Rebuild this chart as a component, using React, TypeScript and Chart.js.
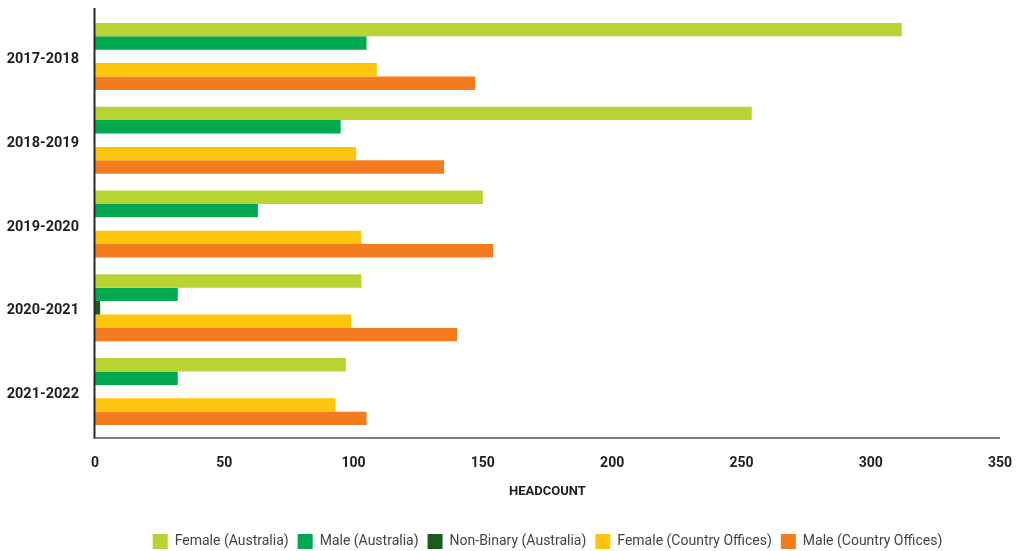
import { useEffect, useRef } from "react";
import { Chart, registerables } from "chart.js";

Chart.register(...registerables);

const categories = ["2017-2018", "2018-2019", "2019-2020", "2020-2021", "2021-2022"];
const femaleAustralia = [312, 254, 150, 103, 97];
const maleAustralia = [105, 95, 63, 32, 32];
const nonBinaryAustralia = [0, 0, 0, 2, 0];
const femaleCountryOffices = [109, 101, 103, 99, 93];
const maleCountryOffices = [147, 135, 154, 140, 105];
const seriesLabels = [
  "Female (Australia)",
  "Male (Australia)",
  "Non-Binary (Australia)",
  "Female (Country Offices)",
  "Male (Country Offices)",
];
const seriesColors = ["#B7D433", "#00A84F", "#1E5A1C", "#FDC60C", "#F37C20"];
const xMin = 0;
const xMax = 350;
const xStep = 50;
const xTitle = "HEADCOUNT";

const FONT = "Roboto, 'DejaVu Sans Condensed', sans-serif";

const axisLines = {
  id: "axisLines",
  afterDraw(chart: any) {
    const { ctx, chartArea } = chart;
    ctx.save();
    ctx.strokeStyle = "#2a2a2a";
    ctx.lineWidth = 2;
    ctx.beginPath();
    ctx.moveTo(chartArea.left - 0.5, chartArea.top - 6.5);
    ctx.lineTo(chartArea.left - 0.5, chartArea.bottom + 5);
    ctx.stroke();
    ctx.strokeStyle = "#555555";
    ctx.lineWidth = 1.6;
    ctx.beginPath();
    ctx.moveTo(chartArea.left - 1.5, chartArea.bottom + 4.5);
    ctx.lineTo(chartArea.right, chartArea.bottom + 4.5);
    ctx.stroke();
    ctx.restore();
  },
};

export default function App() {
  const ref = useRef<HTMLCanvasElement | null>(null);
  useEffect(() => {
    document.body.style.margin = "0";
    const seriesData = [
      femaleAustralia,
      maleAustralia,
      nonBinaryAustralia,
      femaleCountryOffices,
      maleCountryOffices,
    ];
    const chart = new Chart(ref.current as HTMLCanvasElement, {
      type: "bar",
      data: {
        labels: categories,
        datasets: seriesData.map((d, i) => ({
          label: seriesLabels[i],
          data: d,
          backgroundColor: seriesColors[i],
          borderWidth: 0,
          barPercentage: 1,
          categoryPercentage: 0.8,
        })),
      },
      options: {
        indexAxis: "y",
        animation: false,
        responsive: true,
        maintainAspectRatio: false,
        layout: { padding: { top: 14.5, right: 16, left: 0, bottom: 0 } },
        scales: {
          x: {
            min: xMin,
            max: xMax,
            grid: { display: false, drawTicks: false },
            border: { display: false },
            ticks: {
              stepSize: xStep,
              padding: 22,
              maxRotation: 0,
              color: "#1f1f1f",
              font: { family: FONT, size: 14, weight: "bold" },
            },
            title: {
              display: true,
              text: xTitle,
              color: "#1f1f1f",
              padding: { top: 8, bottom: 25 },
              font: { family: FONT, size: 13, weight: "bold" },
            },
            afterFit: (scale: any) => {
              scale.height = 91.5;
              scale.paddingLeft = 0;
              scale.paddingRight = 0;
            },
          },
          y: {
            grid: { display: false, drawTicks: false },
            border: { display: false },
            ticks: {
              padding: 16,
              labelOffset: 3,
              color: "#1f1f1f",
              font: { family: FONT, size: 14.5, weight: "bold" },
            },
            afterFit: (scale: any) => {
              scale.width = 95;
              scale.paddingTop = 0;
              scale.paddingBottom = 0;
            },
          },
        },
        plugins: {
          legend: {
            position: "bottom",
            fullSize: false,
            labels: {
              boxWidth: 15,
              boxHeight: 15,
              padding: 9,
              color: "#444444",
              font: { family: FONT, size: 14 },
            },
          },
          tooltip: { enabled: false },
        },
      },
      plugins: [axisLines],
    });
    return () => chart.destroy();
  }, []);
  return (
    <div style={{ position: "fixed", left: 0, top: 0, width: 1016, height: 551, overflow: "hidden", background: "#fff" }}>
      <div style={{ position: "relative", width: 1016, height: 559 }}>
        <canvas ref={ref} />
      </div>
    </div>
  );
}
